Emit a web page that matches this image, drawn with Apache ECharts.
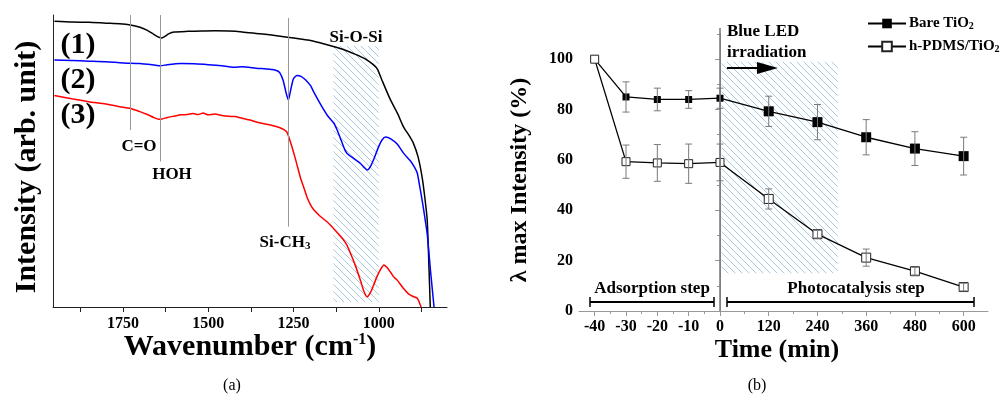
<!DOCTYPE html>
<html lang="en">
<head>
<meta charset="UTF-8">
<title>FTIR spectra and photocatalysis</title>
<script src="https://cdn.jsdelivr.net/npm/echarts@6.0.0/dist/echarts.min.js"></script>
<style>html,body{margin:0;padding:0;background:#fff;}</style>
</head>
<body>
<div id="main" style="width:1007px;height:403px;"></div>
<script>
// ---- (a) FTIR spectra: [wavenumber, intensity (arb.)]
var spec1 = [[1951,97.9],[1900,97.6],[1850,97.5],[1800,97.2],[1760,97.0],[1728,96.6],[1700,95.8],[1680,94.8],
    [1660,93.4],[1645,92.4],[1638,92.1],[1628,92.6],[1615,93.6],[1600,94.2],[1560,94.4],[1520,94.5],[1480,94.6],
    [1440,94.5],[1400,94.2],[1360,93.7],[1320,93.2],[1268,92.4],[1230,91.8],[1200,91.3],[1170,90.4],[1133,89.2],
    [1100,88.0],[1070,86.6],[1040,85.0],[1016,83.0],[1004,81.5],[990,77.5],[966,71.0],[945,66.3],[928,61.8],
    [910,58.5],[899,56.2],[885,51.5],[873,44.5],[865,37.5],[858,29.8],[853,14],[849,0]];
var spec2 = [[1951,84.6],[1900,84.4],[1850,84.2],[1800,84.0],[1750,83.6],[1700,83.4],[1660,82.9],[1640,82.6],
    [1620,83.0],[1580,83.4],[1540,83.3],[1500,83.0],[1460,82.6],[1425,82.1],[1400,82.3],[1360,81.8],[1320,81.4],
    [1300,81.0],[1290,80.2],[1280,77.5],[1272,73.5],[1265,70.9],[1258,74.5],[1250,78.2],[1240,79.3],[1228,79.0],
    [1215,77.8],[1200,75.8],[1190,73.5],[1171,69.5],[1150,65.5],[1132,63.0],[1122,60.6],[1110,57.0],[1100,54.0],
    [1093,52.6],[1075,51.0],[1055,49.3],[1040,47.5],[1034,46.9],[1025,48.0],[1015,50.5],[1000,55.0],[990,57.3],
    [980,58.2],[965,57.6],[946,55.8],[927,52.6],[907,50.0],[895,47.8],[887,45.8],[878,40.0],[870,34.5],
    [858,25.0],[848,12.0],[838,0]];
var spec3 = [[1951,72.4],[1900,71.3],[1850,70.3],[1800,69.5],[1760,68.6],[1728,68.0],[1700,66.9],[1680,66.0],
    [1660,64.9],[1645,64.3],[1635,64.4],[1620,64.9],[1602,65.3],[1580,65.8],[1560,65.9],[1545,66.3],[1530,65.9],
    [1515,66.4],[1500,65.8],[1480,66.1],[1460,65.6],[1440,65.3],[1420,65.2],[1406,64.8],[1380,64.1],[1347,63.0],
    [1320,62.4],[1288,61.3],[1270,60.0],[1259,56.5],[1245,51.0],[1229,44.0],[1220,41.0],[1210,37.5],[1200,35.0],
    [1190,33.2],[1171,31.0],[1150,29.0],[1132,26.8],[1112,24.2],[1095,21.5],[1083,18.4],[1068,14.0],[1054,9.2],
    [1044,5.5],[1034,3.5],[1025,4.8],[1015,7.5],[1005,10.5],[995,12.8],[985,14.4],[975,13.4],[965,11.8],
    [957,10.4],[946,9.2],[928,6.4],[913,4.5],[899,3.6],[887,3.0],[876,0]];
var ftirTicks = [1875, 1750, 1625, 1500, 1375, 1250, 1125, 1000, 875];
var ftirLabels = [1750, 1500, 1250, 1000];
var bandLines = [[1728, 100, 60.6], [1640, 100, 49.8], [1265, 99, 27.5]];   // [wavenumber, top, bottom]
var siOSiBand = [1133, 1000];

// ---- (b) photocatalysis
var times = [-40, -30, -20, -10, 0, 120, 240, 360, 480, 600];
var bare = [100, 85, 84, 84, 84.5, 79.3, 75, 69, 64.5, 61.5];
var bareErr = [0, 6, 4.5, 3.5, 4, 6, 7, 7, 6.7, 7.5];
var pdms = [100, 59.3, 58.8, 58.5, 59, 44.5, 30.5, 21.2, 15.8, 9.5];
var pdmsErr = [0, 6.6, 7.3, 7.8, 7.3, 4, 1.5, 3.4, 1.5, 1.5];
var leftMajor = [-40, -30, -20, -10, 0];
var leftMinor = [-35, -25, -15, -5];
var rightMajor = [0, 120, 240, 360, 480, 600];
var rightLabels = [120, 240, 360, 480, 600];
var rightMinor = [60, 180, 300, 420, 540];
var yMajor = [0, 20, 40, 60, 80, 100];
var yMinor = [10, 30, 50, 70, 90, 110];
var ledBand = [4, 290, 15, 99];

var F = 'Liberation Serif';
var chart = echarts.init(document.getElementById('main'));

function hatch() {
    var c = document.createElement('canvas');
    c.width = 7; c.height = 7;
    var g = c.getContext('2d');
    g.strokeStyle = '#9cc4dc';
    g.lineWidth = 0.9;
    g.beginPath();
    g.moveTo(0, 0); g.lineTo(7, 7);
    g.moveTo(-1, 6); g.lineTo(1, 8);
    g.moveTo(6, -1); g.lineTo(8, 1);
    g.stroke();
    return {image: c, repeat: 'repeat'};
}

var lbl = {fontFamily: F, fontWeight: 'bold', fontSize: 16, color: '#000'};
var plain = function (v) { return String(v); };

function xAx(grid, min, max, ticks, labels, len, showLine, lineColor) {
    return {
        type: 'value', gridIndex: grid, min: min, max: max, position: 'bottom',
        axisLine: {show: showLine, lineStyle: {color: lineColor, width: 1}},
        axisTick: {show: true, customValues: ticks, length: len, lineStyle: {color: lineColor}},
        axisLabel: labels ? Object.assign({customValues: labels, margin: 8, formatter: plain}, lbl) : {show: false},
        splitLine: {show: false}
    };
}
function yAx(grid, ticks, labels, len, showLine) {
    return {
        type: 'value', gridIndex: grid, min: 0, max: 110, position: 'left', offset: 0,
        axisLine: {show: showLine, lineStyle: {color: '#999', width: 1}},
        axisTick: {show: true, customValues: ticks, length: len, lineStyle: {color: '#999'}},
        axisLabel: labels ? Object.assign({customValues: labels, margin: 6, formatter: plain}, lbl) : {show: false},
        splitLine: {show: false}
    };
}

function pts(vals, from, to, zeroItem) {
    var out = [];
    for (var i = from; i <= to; i++) {
        var it = {value: [times[i], vals[i]]};
        if (times[i] === 0) Object.assign(it, zeroItem);
        out.push(it);
    }
    return out;
}

var bareStyle = {symbol: 'rect', itemStyle: {color: '#000'}, lineStyle: {color: '#000', width: 1.3}};
var pdmsStyle = {symbol: 'rect', itemStyle: {color: '#fff', borderColor: '#222', borderWidth: 1},
    lineStyle: {color: '#000', width: 1.3}};

function lineS(name, xi, yi, style, size, data) {
    return Object.assign({
        type: 'line', name: name, xAxisIndex: xi, yAxisIndex: yi, symbolSize: size,
        data: data, clip: false, z: 2
    }, style);
}

function errS(xi, yi, vals, errs, from, to) {
    var d = [];
    for (var i = from; i <= to; i++) {
        if (errs[i] > 0) d.push([times[i], vals[i] - errs[i], vals[i] + errs[i]]);
    }
    return {
        type: 'custom', xAxisIndex: xi, yAxisIndex: yi, z: 3, clip: false, silent: true,
        data: d, encode: {x: 0, y: [1, 2]},
        renderItem: function (params, api) {
            var x = api.value(0);
            var lo = api.coord([x, api.value(1)]);
            var hi = api.coord([x, api.value(2)]);
            var w = 3.5;
            var st = {stroke: '#7a7a7a', lineWidth: 1};
            return {type: 'group', children: [
                {type: 'line', shape: {x1: lo[0], y1: lo[1], x2: hi[0], y2: hi[1]}, style: st},
                {type: 'line', shape: {x1: lo[0] - w, y1: lo[1], x2: lo[0] + w, y2: lo[1]}, style: st},
                {type: 'line', shape: {x1: hi[0] - w, y1: hi[1], x2: hi[0] + w, y2: hi[1]}, style: st}
            ]};
        }
    };
}

function txt(x, y, text, size, extra, align) {
    return Object.assign({
        type: 'text', x: x, y: y, silent: true, z: 100,
        style: {text: text, fontFamily: F, fontWeight: 'bold', fontSize: size, fill: '#000',
            align: align || 'center', verticalAlign: 'middle'}
    }, extra || {});
}
function seg(x1, y1, x2, y2, w, color) {
    return {type: 'line', silent: true, z: 100, shape: {x1: x1, y1: y1, x2: x2, y2: y2},
        style: {stroke: color || '#000', lineWidth: w}};
}

var subRich = {
    a: {fontFamily: F, fontWeight: 'bold', fontSize: 17},
    s: {fontFamily: F, fontWeight: 'bold', fontSize: 11, verticalAlign: 'bottom', padding: [6, 0, 0, 0]}
};

var option = {
    animation: false,
    grid: [
        {left: 53, top: 15, width: 394, height: 292},
        {left: 579, top: 34, width: 141, height: 277},
        {left: 720, top: 34, width: 268, height: 277}
    ],
    xAxis: [
        {
            type: 'value', gridIndex: 0, min: 800, max: 1955, inverse: true,
            axisLine: {lineStyle: {color: '#222', width: 1}},
            axisTick: {customValues: ftirTicks, length: 5, lineStyle: {color: '#222'}},
            axisLabel: Object.assign({customValues: ftirLabels, margin: 9, formatter: plain}, lbl),
            splitLine: {show: false}
        },
        xAx(1, -45, 0, leftMajor, leftMajor, 5, true, '#999'),
        xAx(1, -45, 0, leftMinor, null, 3, false, '#999'),
        xAx(2, 0, 660, rightMajor, rightLabels, 5, true, '#999'),
        xAx(2, 0, 660, rightMinor, null, 3, false, '#999')
    ],
    yAxis: [
        {
            type: 'value', gridIndex: 0, min: 0, max: 100,
            axisLine: {show: true, lineStyle: {color: '#222', width: 1}},
            axisTick: {show: false}, axisLabel: {show: false}, splitLine: {show: false}
        },
        yAx(1, yMajor, yMajor, 5, true),
        yAx(1, yMinor, null, 3, false),
        {
            type: 'value', gridIndex: 2, min: 0, max: 110,
            axisLine: {show: false},
            axisTick: {show: false}, axisLabel: {show: false}, splitLine: {show: false}
        }
    ],
    legend: {
        data: ['Bare TiO2', 'h-PDMS/TiO2'],
        orient: 'vertical', left: 862, top: 11, itemWidth: 38, itemHeight: 12, itemGap: 8,
        selectedMode: false,
        formatter: function (n) {
            return n === 'Bare TiO2' ? '{a|Bare TiO}{s|2}' : '{a|h-PDMS/TiO}{s|2}';
        },
        textStyle: {
            color: '#000', padding: [0, 0, 0, -2],
            rich: {
                a: {fontFamily: F, fontWeight: 'bold', fontSize: 15, color: '#000'},
                s: {fontFamily: F, fontWeight: 'bold', fontSize: 10, color: '#000', verticalAlign: 'bottom', padding: [5, 0, 0, 0]}
            }
        }
    },
    series: [
        Object.assign(lineS('Bare TiO2', 3, 3, bareStyle, 10, pts(bare, 4, 9, {symbol: 'none'})), {
            markArea: {
                silent: true,
                itemStyle: {color: hatch()},
                data: [[{coord: [ledBand[0], ledBand[3]]}, {coord: [ledBand[1], ledBand[2]]}]]
            }
        }),
        lineS('h-PDMS/TiO2', 3, 3, pdmsStyle, 9, pts(pdms, 4, 9, {symbol: 'none'})),
        lineS('Bare TiO2', 1, 1, bareStyle, 7, pts(bare, 0, 4, {})),
        lineS('h-PDMS/TiO2', 1, 1, pdmsStyle, 8, pts(pdms, 0, 4, {})),
        errS(1, 1, bare, bareErr, 0, 4),
        errS(3, 3, bare, bareErr, 5, 9),
        errS(1, 1, pdms, pdmsErr, 0, 4),
        errS(3, 3, pdms, pdmsErr, 5, 9),
        {
            type: 'line', name: 's1', xAxisIndex: 0, yAxisIndex: 0, data: spec1, symbol: 'none',
            smooth: 0.2, lineStyle: {color: '#000', width: 1.5}, z: 4,
            markArea: {
                silent: true, itemStyle: {color: hatch()},
                data: [[{coord: [siOSiBand[0], 89.4]}, {coord: [siOSiBand[1], 1.7]}]]
            },
            markLine: {
                silent: true, symbol: 'none', label: {show: false},
                lineStyle: {color: '#999', width: 1, type: 'solid'},
                data: bandLines.map(function (b) {
                    return [{coord: [b[0], b[1]]}, {coord: [b[0], b[2]]}];
                })
            }
        },
        {
            type: 'line', name: 's2', xAxisIndex: 0, yAxisIndex: 0, data: spec2, symbol: 'none',
            smooth: 0.2, lineStyle: {color: '#0000ff', width: 1.5}, z: 4
        },
        {
            type: 'line', name: 's3', xAxisIndex: 0, yAxisIndex: 0, data: spec3, symbol: 'none',
            smooth: 0.2, lineStyle: {color: '#ff0000', width: 1.5}, z: 4
        }
    ],
    graphic: [
        txt(78, 45, '(1)', 30),
        txt(78, 80, '(2)', 30),
        txt(78, 115, '(3)', 30),
        txt(139, 147, 'C=O', 17),
        txt(172, 175, 'HOH', 17),
        {
            type: 'text', x: 285, y: 243, silent: true, z: 100,
            style: {text: '{a|Si-CH}{s|3}', rich: subRich, align: 'center', verticalAlign: 'middle', fill: '#000'}
        },
        txt(356, 38, 'Si-O-Si', 17),
        txt(27, 167, 'Intensity (arb. unit)', 30, {rotation: Math.PI / 2}),
        {
            type: 'text', x: 250, y: 347, silent: true, z: 100,
            style: {
                text: '{a|Wavenumber (cm}{s|-1}{a|)}', align: 'center', verticalAlign: 'middle', fill: '#000',
                rich: {
                    a: {fontFamily: F, fontWeight: 'bold', fontSize: 30},
                    s: {fontFamily: F, fontWeight: 'bold', fontSize: 16, verticalAlign: 'top', padding: [0, 0, 12, 0]}
                }
            }
        },
        {
            type: 'text', x: 232, y: 386, silent: true,
            style: {text: '(a)', fontFamily: F, fontSize: 16, fill: '#000', align: 'center', verticalAlign: 'middle'}
        },
        {
            type: 'text', x: 757, y: 386, silent: true,
            style: {text: '(b)', fontFamily: F, fontSize: 16, fill: '#000', align: 'center', verticalAlign: 'middle'}
        },
        // light-on marker at t = 0
        seg(720, 28, 720, 311, 1.5, '#777'),
        txt(727, 32, 'Blue LED', 17, null, 'left'),
        txt(727, 53, 'irradiation', 17, null, 'left'),
        seg(727, 68, 760, 68, 2.2),
        {
            type: 'polygon', silent: true, z: 100, shape: {points: [[757, 62], [778, 68], [757, 74]]},
            style: {fill: '#000'}
        },
        txt(652, 289, 'Adsorption step', 17),
        seg(590, 302, 714, 302, 2), seg(590, 297, 590, 307, 1.5), seg(714, 297, 714, 307, 1.5),
        txt(856, 289, 'Photocatalysis step', 17),
        seg(727, 302, 974, 302, 2), seg(727, 297, 727, 307, 1.5), seg(974, 297, 974, 307, 1.5),
        txt(520, 180, 'λ max Intensity (%)', 24, {rotation: Math.PI / 2}),
        txt(777, 350, 'Time (min)', 26)
    ]
};

chart.setOption(option);
</script>
</body>
</html>
